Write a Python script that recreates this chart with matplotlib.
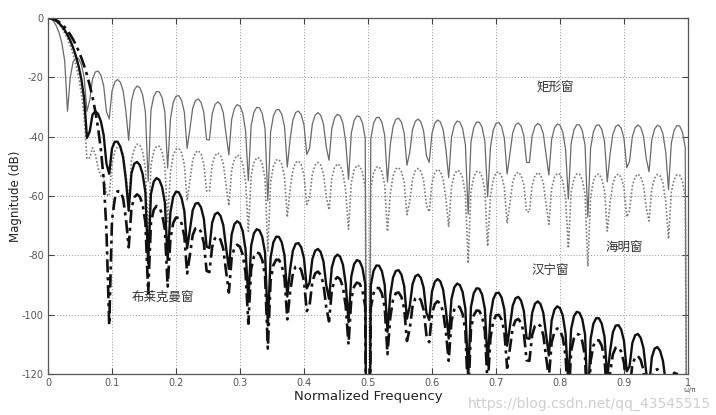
import numpy as np
import matplotlib
matplotlib.use("Agg")
import matplotlib.pyplot as plt

plt.rcParams['font.family'] = ['DejaVu Sans', 'Noto Sans CJK SC']

# ---- data ----
window_length = 64                     # N (periodic windows)
grid_points = 231                      # frequency samples on [0, 1]
window_names = ["rect", "hamming", "hann", "blackman"]
window_labels = ["矩形窗", "海明窗", "汉宁窗", "布莱克曼窗"]
label_x = [0.792, 0.90, 0.784, 0.18]
label_y = [-23.6, -77.5, -85.0, -94.0]
x_ticks = [0, 0.1, 0.2, 0.3, 0.4, 0.5, 0.6, 0.7, 0.8, 0.9, 1]
x_tick_labels = ["0", "0.1", "0.2", "0.3", "0.4", "0.5", "0.6", "0.7", "0.8", "0.9", "1"]
y_ticks = [0, -20, -40, -60, -80, -100, -120]
y_tick_labels = ["0", "-20", "-40", "-60", "-80", "-100", "-120"]

# ---- window spectra (numpy) ----
n = np.arange(window_length)
ph = 2 * np.pi * n / window_length
windows = {
    "rect": np.ones(window_length),
    "hamming": 0.54 - 0.46 * np.cos(ph),
    "hann": 0.5 - 0.5 * np.cos(ph),
    "blackman": 0.42 - 0.5 * np.cos(ph) + 0.08 * np.cos(2 * ph),
}
f = np.linspace(0, 1, grid_points)
E = np.exp(-1j * np.pi * np.outer(f, n))
spectra = {}
for name in window_names:
    w = windows[name]
    H = np.abs(E @ w) / np.sum(w)
    spectra[name] = 20 * np.log10(np.maximum(H, 1e-12))

fig = plt.figure(figsize=(7.16, 4.15), dpi=100)
ax = fig.add_axes([48/716, 1-374/415, 640/716, 356/415])

styles = {
    "rect": dict(color="#6a6a6a", lw=0.9, ls="-"),
    "hamming": dict(color="#7a7a7a", lw=1.2, ls=(0, (1, 1.2))),
    "hann": dict(color="#111111", lw=1.7, ls="-"),
    "blackman": dict(color="#111111", lw=1.9, ls=(0, (5, 1.8, 1.2, 1.8))),
}
for name in window_names:
    ax.plot(f, spectra[name], **styles[name])

ax.set_xlim(0, 1)
ax.set_ylim(-120, 0)
ax.set_xticks(x_ticks)
ax.set_xticklabels(x_tick_labels)
ax.set_yticks(y_ticks)
ax.set_yticklabels(y_tick_labels)
ax.tick_params(direction="in", top=True, right=True, labelsize=7,
               labelcolor="#555555", color="#444444", length=4, pad=3)
ax.grid(True, ls=(0, (1, 2)), color="#999999", lw=0.7)
for s in ax.spines.values():
    s.set_color("#555555")
    s.set_linewidth(0.9)

ax.set_xlabel("Normalized Frequency", fontsize=9.5, color="#222222")
ax.set_ylabel("Magnitude (dB)", fontsize=8.5, color="#222222")
ax.xaxis.set_label_coords(0.5, -0.062)
ax.xaxis.label.set_va("center")
ax.yaxis.set_label_coords(-0.05, 0.5)
ax.yaxis.label.set_va("center")

cjk = ['Noto Sans CJK SC', 'DejaVu Sans']
for lab, x, y in zip(window_labels, label_x, label_y):
    ax.text(x, y, lab, fontsize=9, family=cjk, color="#333333",
            ha="center", va="center")

ax.text(1.003, -125.4, "ω/π", fontsize=5, color="#555555", ha="center", va="center")
fig.text(0.993, 1 - 404/415, "https://blog.csdn.net/qq_43545515", fontsize=10,
         color="#cfcfcf", ha="right", va="center", zorder=0)

fig.savefig("out.png", dpi=100)
